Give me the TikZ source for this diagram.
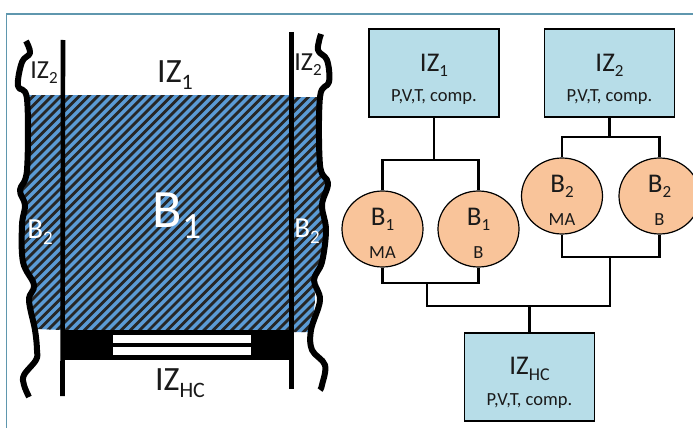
\documentclass[tikz,border=0pt]{standalone}
\usepackage{fontspec}
\setmainfont{Carlito}
\usetikzlibrary{shapes.geometric}
\definecolor{boxblue}{HTML}{B7DDE8}
\definecolor{circorange}{HTML}{F9C49A}
\definecolor{hatchblue}{HTML}{5B9BD5}
\definecolor{hatchdark}{HTML}{262626}
\definecolor{frameblue}{HTML}{5F97AE}
\definecolor{inktext}{HTML}{1A1A1A}
\newcommand{\bigsz}{\fontsize{27}{30}\selectfont}
\newcommand{\leftsz}{\fontsize{34}{36}\selectfont}
\newcommand{\smallsz}{\fontsize{18.5}{20}\selectfont}
\newcommand{\hugesz}{\fontsize{54}{58}\selectfont}
\newcommand{\subtxt}[2]{{\fontsize{#1}{#1}\selectfont\raisebox{-0.3em}{#2}}}
\tikzset{
  zonebox/.style={draw=black,line width=1.8pt,fill=boxblue,minimum width=130pt,minimum height=88pt,inner sep=0pt},
  bloblob/.style={draw=black,line width=1.2pt,fill=circorange,ellipse,minimum width=81pt,minimum height=76pt,inner sep=0pt},
  wire/.style={draw=black,line width=2.3pt,line cap=butt,line join=miter},
  wall/.style={draw=black,line width=6pt,line cap=butt,line join=round},
  rodline/.style={draw=black,line width=4.6pt},
  txt/.style={inner sep=0pt,text=inktext},
  wtxt/.style={inner sep=0pt,text=white}
}
\begin{document}
\begin{tikzpicture}[x=1pt,y=-1pt]
\path[use as bounding box,clip] (0,0) rectangle (693,428);
\fill[white] (0,0) rectangle (693,428);
% frame
\draw[frameblue,line width=1.2pt] (6.5,428) -- (6.5,14) -- (693,14);
% hatched region
\begin{scope}
\clip plot[smooth,tension=0.5] coordinates {(29,95) (28,170) (21,190) (26,205) (22,225) (23,262) (33,285) (30,300) (35,329)}
 -- (120,332) -- (311,332)
 -- plot[smooth,tension=0.5] coordinates {(311,331) (315,300) (314,280) (322,262) (326,230) (322,205) (328,183) (320,165) (318,97)} -- (291,97) -- (291,95) -- cycle;
\fill[hatchblue] (0,80) rectangle (340,340);
\foreach \k in {0,...,70}{
  \draw[hatchdark,line width=2.8pt] ({\k*9.2-280},345) -- ++(270,-270);
}
\end{scope}
% black bar with strips
\fill[black] (63,330) rectangle (292,360);
\fill[white] (113,335) rectangle (251,343);
\fill[white] (113,347) rectangle (251,355);
% rods
\coordinate (rodAt) at (63,40);
\coordinate (rodAb) at (62.5,396);
\coordinate (rodBt) at (291.5,32);
\coordinate (rodBb) at (291.5,389);
\draw[rodline] (rodAt) -- (rodAb);
\draw[rodline] (rodBt) -- (rodBb);
% wavy walls
\draw[wall] plot[smooth,tension=0.6] coordinates {(26,41) (30,53) (22,62) (18,86) (27,99) (27,170) (20,190) (25,205) (22,225) (23,262) (34,285) (29,300) (35,330) (37,350) (36,360) (24,375) (24,385) (29,397)};
\draw[wall] plot[smooth,tension=0.6] coordinates {(321,34) (318,50) (327,60) (329,82) (320,97) (320,165) (328,183) (322,205) (326,230) (322,262) (314,280) (320,300) (311,330) (312,350) (325,365) (322,385) (320,390)};
% left labels
\node[txt] (lIZa) at (44,73) {\fontsize{26}{28}\selectfont IZ\subtxt{17}{2}};
\node[txt] (lIZb) at (175,75) {\leftsz IZ\subtxt{22}{1}};
\node[txt] (lIZc) at (308,65) {\fontsize{26}{28}\selectfont IZ\subtxt{17}{2}};
\node[txt] (lIZd) at (180,383) {\leftsz IZ\subtxt{22}{HC}};
\node[wtxt] (lBa) at (177,216) {\hugesz B\subtxt{37}{1}};
\node[wtxt] (lBb) at (40,232) {\fontsize{29}{31}\selectfont B\subtxt{19}{2}};
\node[wtxt] (lBc) at (307,231) {\fontsize{29}{31}\selectfont B\subtxt{19}{2}};
% boxes
\node[zonebox] (za) at (434,73) {};
\node[zonebox] (zb) at (609.5,73) {};
\node[zonebox] (zc) at (529.5,377) {};
\node[txt] at (434,65) {\bigsz IZ\subtxt{17}{1}};
\node[txt] at (434,97) {\smallsz P,V,T, comp.};
\node[txt] at (609.5,65) {\bigsz IZ\subtxt{17}{2}};
\node[txt] at (609.5,97) {\smallsz P,V,T, comp.};
\node[txt] at (529.5,369) {\bigsz IZ\subtxt{18}{HC}};
\node[txt] at (529.5,401) {\smallsz P,V,T, comp.};
% circles
\node[bloblob] (ca) at (382.5,229) {};
\node[bloblob] (cb) at (478.5,229) {};
\node[bloblob] (cc) at (562,196) {};
\node[bloblob] (cd) at (659.5,196) {};
\node[txt] at (382.5,219) {\bigsz B\subtxt{17}{1}};
\node[txt] at (382.5,253) {\smallsz MA};
\node[txt] at (478.5,219) {\bigsz B\subtxt{17}{1}};
\node[txt] at (478.5,253) {\smallsz B};
\node[txt] at (562,186) {\bigsz B\subtxt{17}{2}};
\node[txt] at (562,220) {\smallsz MA};
\node[txt] at (659.5,186) {\bigsz B\subtxt{17}{2}};
\node[txt] at (659.5,220) {\smallsz B};
% junctions
\coordinate (ja) at (434,160);
\coordinate (jb) at (609.5,137);
\coordinate (jc) at (427,283);
\coordinate (jd) at (610,257);
\coordinate (je) at (529.5,306);
% connectors
\draw[wire] (za.south) -- (ja);
\draw[wire] (ca.north) |- (ja) -| (cb.north);
\draw[wire] (zb.south) -- (jb);
\draw[wire] (cc.north) |- (jb) -| (cd.north);
\draw[wire] (ca.south) |- (jc) -| (cb.south);
\draw[wire] (cc.south) |- (jd) -| (cd.south);
\draw[wire] (jc) |- (je) -| (jd);
\draw[wire] (je) -- (zc.north);
\end{tikzpicture}
\end{document}
